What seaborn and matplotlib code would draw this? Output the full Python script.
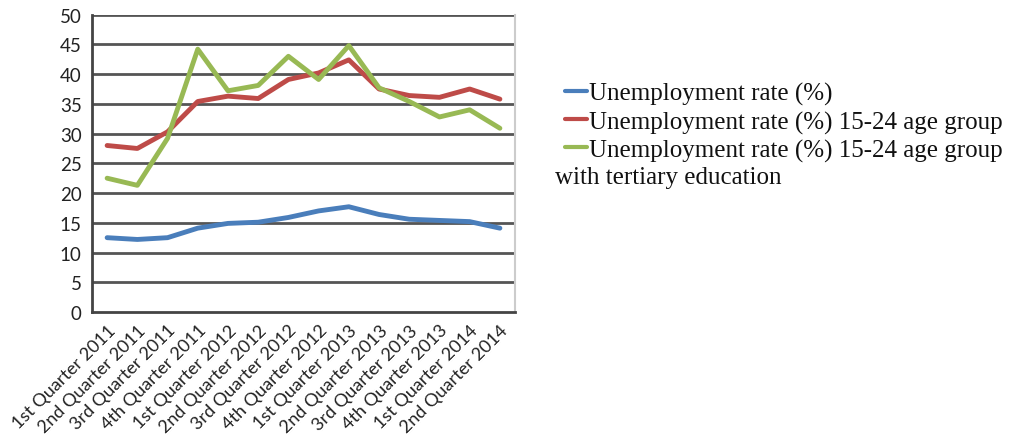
import pandas as pd
import seaborn as sns
import matplotlib.pyplot as plt
from matplotlib.ticker import FixedLocator

quarters = ["1st Quarter 2011", "2nd Quarter 2011", "3rd Quarter 2011", "4th Quarter 2011",
            "1st Quarter 2012", "2nd Quarter 2012", "3rd Quarter 2012", "4th Quarter 2012",
            "1st Quarter 2013", "2nd Quarter 2013", "3rd Quarter 2013", "4th Quarter 2013",
            "1st Quarter 2014", "2nd Quarter 2014"]
total = [12.5, 12.2, 12.5, 14.1, 14.9, 15.1, 15.9, 17.0, 17.7, 16.4, 15.6, 15.4, 15.2, 14.1]
youth = [28.0, 27.5, 30.3, 35.4, 36.3, 35.9, 39.1, 40.2, 42.4, 37.5, 36.4, 36.1, 37.5, 35.8]
tertiary = [22.5, 21.3, 29.2, 44.2, 37.2, 38.1, 43.0, 39.1, 44.8, 37.7, 35.4, 32.8, 34.0, 30.9]

# third label wraps onto a second line in the original, drawn separately below
labels = ["Unemployment rate (%)",
          "Unemployment rate (%) 15-24 age group",
          "Unemployment rate (%) 15-24 age group\u200b"]
colors = ["#4A7EBB", "#BE4B48", "#98B954"]

df = pd.concat([
    pd.DataFrame({"quarter": quarters, "rate": total, "series": labels[0]}),
    pd.DataFrame({"quarter": quarters, "rate": youth, "series": labels[1]}),
    pd.DataFrame({"quarter": quarters, "rate": tertiary, "series": labels[2]}),
])
df["pos"] = df["quarter"].map({q: i for i, q in enumerate(quarters)})

sns.set_style("white")
plt.rcParams["font.family"] = ["Lato", "DejaVu Sans"]

fig = plt.figure(figsize=(10.19, 4.39), dpi=100)
ax = fig.add_axes([0.0903, 0.2870, 0.4151, 0.6773])

for y in range(5, 51, 5):
    ax.axhline(y, color="#555555", lw=2, zorder=1)

sns.lineplot(data=df, x="pos", y="rate", hue="series", palette=colors,
             lw=3.5, sort=False, ax=ax, zorder=3)

ax.set_xlim(-0.5, len(quarters) - 0.5)
ax.set_ylim(0, 50)
ax.set_yticks(range(0, 51, 5))
ax.set_xticks(range(len(quarters)))
ax.set_xticklabels(quarters, rotation=45, ha="right", rotation_mode="anchor")
ax.xaxis.set_minor_locator(FixedLocator([i - 0.5 for i in range(len(quarters) + 1)]))
ax.tick_params(axis="x", which="major", length=0, pad=7, labelsize=13, colors="#222222")
ax.tick_params(axis="x", which="minor", length=7, width=2, color="#444444", direction="out")
ax.tick_params(axis="y", length=7, width=2, color="#444444", direction="out", labelsize=13.5,
               labelcolor="#222222", pad=0.5)
ax.set_xlabel("")
ax.set_ylabel("")

ax.spines["top"].set_visible(False)
ax.spines["right"].set_color("#cccccc")
ax.spines["right"].set_linewidth(1.5)
for side in ["left", "bottom"]:
    ax.spines[side].set_color("#444444")
    ax.spines[side].set_linewidth(2)

handles, _ = ax.get_legend_handles_labels()
ax.get_legend().remove()
leg = fig.legend(handles, [l.strip("\u200b") for l in labels], loc="upper left",
                 bbox_to_anchor=(0.545, 0.833),
                 frameon=False, prop={"family": "Liberation Serif", "size": 18},
                 handlelength=0.85, handletextpad=0.1, labelspacing=0.2, borderaxespad=0)
for line in leg.get_lines():
    line.set_linewidth(3)
for t in leg.get_texts():
    t.set_color("#111111")
fig.text(0.545, 0.594, "with tertiary education", family="Liberation Serif", fontsize=18,
         va="center", ha="left", color="#111111")

fig.savefig("out.png", dpi=100)
